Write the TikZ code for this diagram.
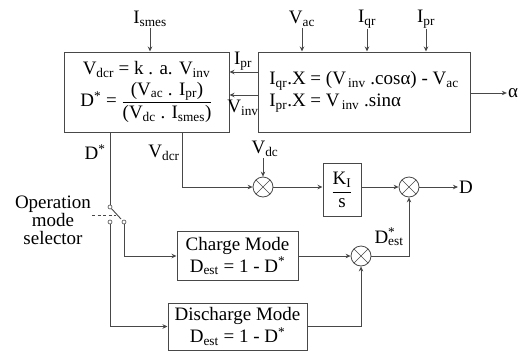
\documentclass[tikz,border=0pt]{standalone}
\usepackage{fontspec}
\setmainfont{Liberation Serif}
\usetikzlibrary{arrows.meta}
\definecolor{wire}{RGB}{72,72,72}
\newcommand{\fs}{\fontsize{19}{22}\selectfont}
\newcommand{\lo}[1]{\textsubscript{#1}}
\tikzset{blk/.style={rectangle,draw=wire,line width=1pt,inner sep=0pt,align=center,font=\fs},
  sumpt/.style={circle,draw=wire,line width=.8pt,minimum size=20pt,inner sep=0pt,
    path picture={\draw[wire,line width=.6pt] (path picture bounding box.north west)--(path picture bounding box.south east)
      (path picture bounding box.north east)--(path picture bounding box.south west);}},
  contact/.style={circle,draw=wire,fill=white,minimum size=4pt,inner sep=0pt,line width=.6pt},
  lbl/.style={inner sep=1pt,font=\fs},
  wireln/.style={draw=wire,line width=.9pt},
  arrow/.style={wireln,-{Stealth[length=5pt,width=4.5pt]}}}
\begin{document}
\begin{tikzpicture}[x=1pt,y=-1pt]
  \path[use as bounding box] (0,0) rectangle (518,351);
  % main blocks
  \node[blk,minimum width=165,minimum height=80] (ctrl) at (146.5,92)
    {V\lo{dcr} = k . a. V\lo{inv}\\[3pt]
     D\textsuperscript{*} = $\displaystyle\frac{\hbox{(V\lo{ac} . I\lo{pr})}}{\hbox{(V\lo{dc} . I\lo{smes})}}$};
  \node[blk,minimum width=212,minimum height=80,align=left] (est) at (364,92)
    {I\lo{qr}.X = (V\lo{\,inv} .cosα) - V\lo{ac}\\I\lo{pr}.X = V\lo{\,inv} .sinα};
  \node[blk,minimum width=38,minimum height=53] (ki) at (342,190)
    {$\displaystyle\frac{\hbox{K\lo{I}}}{\hbox{s}}$};
  \node[blk,minimum width=121,minimum height=49] (chg) at (237.5,256)
    {Charge Mode\\D\lo{est} = 1 - D\textsuperscript{*}};
  \node[blk,minimum width=139,minimum height=47] (dis) at (237.5,326.5)
    {Discharge Mode\\D\lo{est} = 1 - D\textsuperscript{*}};
  \node[sumpt] (sum1) at (263,187) {};
  \node[sumpt] (sum2) at (409,187) {};
  \node[sumpt] (sum3) at (361,256) {};
  % inputs and outputs
  \node[lbl] (ismes) at (150,19) {I\lo{smes}};
  \node[lbl] (vac) at (302,19) {V\lo{ac}};
  \node[lbl] (iqr) at (367,19) {I\lo{qr}};
  \node[lbl] (iprt) at (426,19) {I\lo{pr}};
  \node[lbl] (alpha) at (513,93) {α};
  \node[lbl] (iprm) at (243,61) {I\lo{pr}};
  \node[lbl] (vinv) at (243,108) {V\lo{inv}};
  \node[lbl] (dstar) at (95,152) {D\textsuperscript{*}};
  \node[lbl] (vdcr) at (164,153) {V\lo{dcr}};
  \node[lbl] (vdc) at (265,149) {V\lo{dc}};
  \node[lbl] (dout) at (466,187) {D};
  \node[lbl] (dest) at (389,237) {D\rlap{\textsuperscript{*}}\lo{est}};
  \node[lbl,font=\fontsize{19}{18}\selectfont,align=center] (opsel) at (53,220) {Operation\\mode\\selector};
  \foreach \src in {ismes}{\draw[arrow] (\src) -- (\src |- ctrl.north);}
  \foreach \src in {vac,iqr,iprt}{\draw[arrow] (\src) -- (\src |- est.north);}
  \draw[arrow] (est.east |- alpha) -- (alpha.west);
  \draw[arrow] ([yshift=20pt]est.west) -- ([yshift=20pt]ctrl.east);
  \draw[arrow] ([yshift=-3pt]est.west) -- ([yshift=-3pt]ctrl.east);
  % selector switch
  \node[contact] (swtop) at (110,207) {};
  \node[contact] (swl) at (110,222) {};
  \node[contact] (swr) at (124,222) {};
  \coordinate (blade) at (121,219);
  \coordinate (actl) at (92,215);
  \coordinate (actr) at (116,215);
  \draw[wireln] (ctrl.south -| swtop) -- (swtop);
  \draw[wireln] (swtop) -- (blade);
  \draw[wire,line width=.8pt,dashed,dash pattern=on 3pt off 2.5pt] (actl) -- (actr);
  \draw[arrow] (swr) |- (chg.west);
  \draw[arrow] (swl) |- (dis.west);
  % loop
  \draw[arrow] ([xshift=35.5pt]ctrl.south) |- (sum1.west);
  \draw[arrow] (vdc.south -| sum1) -- (sum1.north);
  \draw[arrow] (sum1.east) -- (sum1 -| ki.west);
  \draw[arrow] (sum1 -| ki.east) -- (sum2.west);
  \draw[arrow] (sum2.east) -- (dout.west);
  \draw[arrow] (chg.east) -- (sum3.west);
  \draw[arrow] (sum3.east) -| (sum2.south);
  \draw[arrow] (dis.east) -| (sum3.south);
\end{tikzpicture}
\end{document}
